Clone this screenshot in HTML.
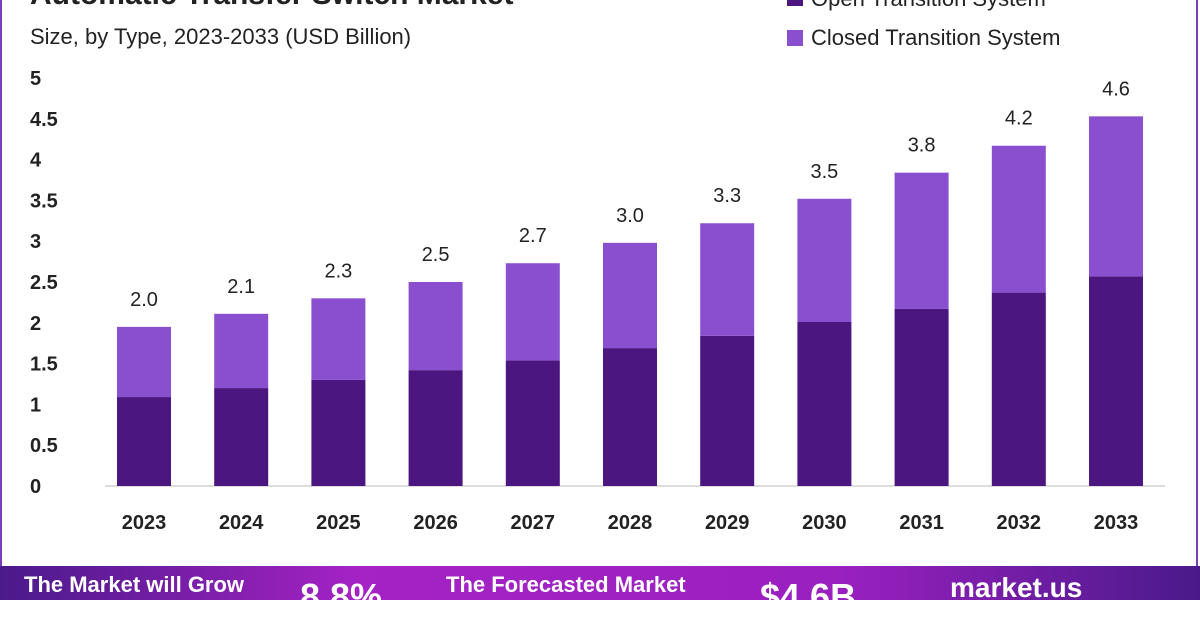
<!DOCTYPE html>
<html><head><meta charset="utf-8"><style>
body{margin:0;width:1200px;height:600px;overflow:hidden;background:#fff;font-family:"Liberation Sans",sans-serif;position:relative}
.t{position:absolute;white-space:nowrap}
</style></head><body>
<div style="position:absolute;left:0;top:0;width:1198px;height:566px;border-left:2px solid #7a3fb8;border-right:2px solid #7a3fb8;box-sizing:border-box"></div>
<div class="t" style="left:30px;top:-22px;font-size:30px;font-weight:bold;color:#222">Automatic Transfer Switch Market</div>
<div class="t" style="left:30px;top:24px;font-size:22px;color:#222">Size, by Type, 2023-2033 (USD Billion)</div>
<div class="t" style="left:787px;top:-14px;font-size:22px;color:#222"><span style="display:inline-block;width:16px;height:16px;background:#4b1680;margin-right:8px"></span>Open Transition System</div>
<div class="t" style="left:787px;top:25px;font-size:22px;color:#222"><span style="display:inline-block;width:16px;height:16px;background:#8a4fcf;margin-right:8px;vertical-align:-1px"></span>Closed Transition System</div>
<svg id="c" width="1200" height="566" style="position:absolute;left:0;top:0"></svg>
<div style="position:absolute;left:0;top:566px;width:1200px;height:34px;background:linear-gradient(90deg,#4a1a8a,#a522c4 30%,#9a20c0 70%,#4a1a8a)">
<div class="t" style="left:24px;top:6px;font-size:22px;font-weight:bold;color:#fff">The Market will Grow</div>
<div class="t" style="left:300px;top:10px;font-size:36px;font-weight:bold;color:#fff">8.8%</div>
<div class="t" style="left:446px;top:6px;font-size:22px;font-weight:bold;color:#fff">The Forecasted Market</div>
<div class="t" style="left:760px;top:10px;font-size:36px;font-weight:bold;color:#fff">$4.6B</div>
<div class="t" style="left:950px;top:6px;font-size:28px;font-weight:bold;color:#fff">market.us</div>
</div>
<script>
const years=["2023","2024","2025","2026","2027","2028","2029","2030","2031","2032","2033"];
const openVals=[1.09,1.2,1.3,1.42,1.54,1.69,1.84,2.01,2.17,2.37,2.57];
const closedVals=[0.86,0.91,1.0,1.08,1.19,1.29,1.38,1.51,1.67,1.8,1.96];
const totalLabels=["2.0","2.1","2.3","2.5","2.7","3.0","3.3","3.5","3.8","4.2","4.6"];
const yTicks=[0,0.5,1,1.5,2,2.5,3,3.5,4,4.5,5];
const svg=document.getElementById('c');const NS="http://www.w3.org/2000/svg";
const y=v=>486-v*81.6;const x=i=>144+i*97.2;
function mk(t,a){const e=document.createElementNS(NS,t);for(const k in a)e.setAttribute(k,a[k]);svg.appendChild(e);return e;}
const base=mk('line',{x1:105,x2:1165,y1:486,y2:486,stroke:'#bbb','stroke-width':1});


yTicks.forEach(v=>{const t=mk('text',{x:30,y:y(v)+7,'font-size':20,'font-weight':'bold',fill:'#222','font-family':'Liberation Sans'});t.textContent=v;

});
years.forEach((yr,i)=>{
const o=openVals[i],c=closedVals[i];
const b1=mk('rect',{x:x(i)-27,y:y(o),width:54,height:o*81.6,fill:'#4b1680'});


const b2=mk('rect',{x:x(i)-27,y:y(o+c),width:54,height:c*81.6,fill:'#8a4fcf'});


const l=mk('text',{x:x(i),y:y(o+c)-21,'text-anchor':'middle','font-size':20,fill:'#222','font-family':'Liberation Sans'});l.textContent=totalLabels[i];


const xl=mk('text',{x:x(i),y:529,'text-anchor':'middle','font-size':20,'font-weight':'bold',fill:'#222','font-family':'Liberation Sans'});xl.textContent=yr;


});
</script>
</body></html>
